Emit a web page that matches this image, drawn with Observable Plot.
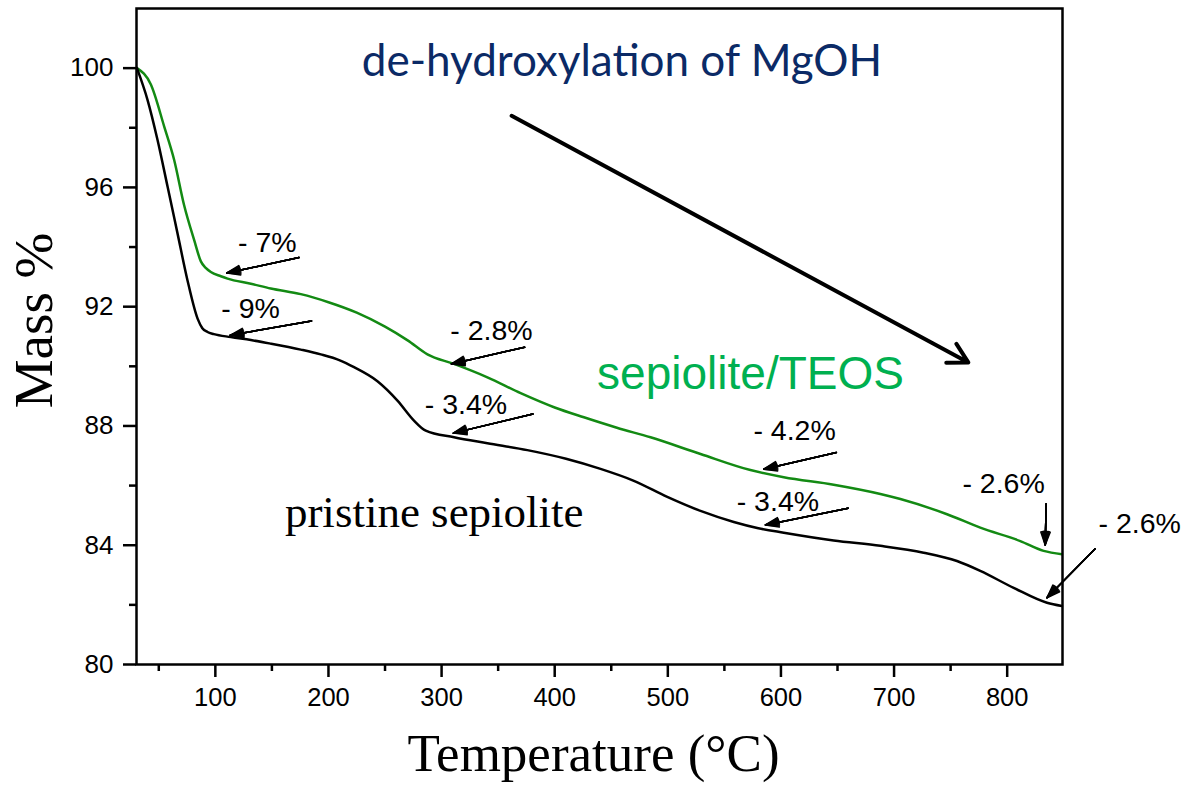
<!DOCTYPE html>
<html><head><meta charset="utf-8">
<script src="https://cdn.jsdelivr.net/npm/d3@7"></script>
<script src="https://cdn.jsdelivr.net/npm/@observablehq/plot@0.6"></script>
<style>body{margin:0;background:#fff;}</style>
</head><body><div id="chart"></div>
<script>
// pristine sepiolite (black)
const tempBlack = [30.7,40.1,48.9,57.8,66.6,75.4,84.3,88.5,93.1,98.7,113.7,131.4,149,175.5,193.2,210,222.6,243.3,261,275.6,286,311,340.5,375.8,410,440.5,470,499.5,528.9,558.3,580,602.5,646.6,687.9,726.1,755.6,776.2,805.7,835.2,848.4];
const massBlack = [100.0,98.93,97.59,96.02,94.45,92.88,91.60,91.28,91.15,91.08,90.98,90.88,90.76,90.56,90.40,90.20,89.97,89.50,88.85,88.18,87.84,87.62,87.42,87.19,86.90,86.56,86.16,85.62,85.15,84.78,84.57,84.42,84.16,83.98,83.75,83.47,83.14,82.57,82.07,81.96];
// sepiolite/TEOS (green)
const tempGreen = [30.7,43,54.8,63.6,72.4,81.3,87.2,91.5,96,104.9,110.8,131.4,149,175.5,200,225,250,270,287.5,311,340.5,369.9,400,425.8,455,484.7,528.9,573,602.5,646.6,687.9,705.6,746.8,776.2,811.6,832.2,848.4];
const massGreen = [100.0,99.45,98.04,96.92,95.40,94.23,93.52,93.30,93.16,93.02,92.94,92.77,92.61,92.42,92.15,91.80,91.33,90.87,90.40,90.08,89.63,89.10,88.62,88.29,87.94,87.62,87.06,86.52,86.28,86.03,85.72,85.55,85.04,84.59,84.14,83.81,83.70];

const xTicks = [100,200,300,400,500,600,700,800];
const xMinor = [50,150,250,350,450,550,650,750];
const yTicks = [80,84,88,92,96,100];
const yMinor = [82,86,90,94,98];

// mass-loss annotations
const annLabels = ["- 7%","- 9%","- 2.8%","- 3.4%","- 4.2%","- 3.4%","- 2.6%"];
const annX = [145.9,131.1,344.1,321.6,612.1,597.3,796.8];
const annY = [94.15,91.91,91.20,88.72,87.83,85.46,86.06];
const edgeLabel = ["- 2.6%"];
const edgeX = [880.7];
const edgeY = [84.71];
const arrX1 = [174.0,185.0,373.4,380.7,649.0,659.4,834.5,877.8];
const arrY1 = [93.65,91.52,90.64,88.40,87.11,85.24,85.39,83.88];
const arrX2 = [110.2,113.1,308.7,310.4,584.8,586.3,833.6,835.2];
const arrY2 = [93.13,91.04,90.08,87.76,86.55,84.68,84.01,82.24];

// de-hydroxylation trend arrow
const trendX1 = [361.9], trendY1 = [98.40], trendX2 = [765.6], trendY2 = [90.13];

const titleText = ["de-hydroxylation of MgOH"];
const titleX = [459.5], titleY = [100.21];
const teosText = ["sepiolite/TEOS"];
const teosX = [573.1], teosY = [89.72];
const pristineText = ["pristine sepiolite"];
const pristineX = [293.5], pristineY = [85.09];

const blackRows = tempBlack.map((t, i) => ({t, m: massBlack[i]}));
const greenRows = tempGreen.map((t, i) => ({t, m: massGreen[i]}));
const arrows = arrX1.map((x1, i) => ({x1, y1: arrY1[i], x2: arrX2[i], y2: arrY2[i]}));

const sans = "'Liberation Sans', Arial, sans-serif";
const serif = "'Liberation Serif', 'Times New Roman', serif";

const headMarks = [0, 8, 16, 24, 32, 40].map(a =>
  Plot.arrow(arrows, {x1: "x1", y1: "y1", x2: "x2", y2: "y2", stroke: "#000", strokeWidth: 1.5, headLength: 14, headAngle: a})
);

const chart = Plot.plot({
  width: 1182,
  height: 787,
  marginLeft: 136,
  marginRight: 120,
  marginTop: 8,
  marginBottom: 123,
  style: {background: "#fff", color: "#000", fontFamily: sans, fontSize: "25px"},
  x: {domain: [30.3, 848.9]},
  y: {domain: [80, 102]},
  marks: [
    Plot.line(greenRows, {x: "t", y: "m", stroke: "#138a13", strokeWidth: 2.5, curve: "monotone-x"}),
    Plot.line(blackRows, {x: "t", y: "m", stroke: "#000", strokeWidth: 2.5, curve: "monotone-x"}),
    Plot.frame({stroke: "#000", strokeWidth: 2.5}),
    Plot.axisX({ticks: xTicks, tickSize: 13, tickPadding: 10, strokeWidth: 2.5, fontSize: 25.5, fontFamily: sans, label: null}),
    Plot.axisX({ticks: xMinor, tickSize: 7, strokeWidth: 2.5, tickFormat: () => "", label: null}),
    Plot.axisY({ticks: yTicks, tickSize: 13, tickPadding: 10, strokeWidth: 2.5, fontSize: 26, fontFamily: sans, label: null}),
    Plot.axisY({ticks: yMinor, tickSize: 7, strokeWidth: 2.5, tickFormat: () => "", label: null}),
    Plot.text(["Temperature (°C)"], {frameAnchor: "bottom", dy: 90, dx: -6, fontSize: 53, fontFamily: serif, textAnchor: "middle", lineAnchor: "middle", fill: "#000"}),
    Plot.text(["Mass %"], {frameAnchor: "left", dx: -102, dy: -16, rotate: -90, fontSize: 55, fontFamily: serif, textAnchor: "middle", lineAnchor: "middle", fill: "#000"}),
    Plot.arrow([0], {x1: () => trendX1[0], y1: () => trendY1[0], x2: () => trendX2[0], y2: () => trendY2[0], stroke: "#000", strokeWidth: 4, headLength: 8.25, headAngle: 58}),
    ...headMarks,
    Plot.text(annLabels, {x: (d, i) => annX[i], y: (d, i) => annY[i], text: d => d, fontSize: 28.5, fontFamily: sans, fill: "#000", textAnchor: "middle", lineAnchor: "middle"}),
    Plot.text(edgeLabel, {x: (d, i) => edgeX[i], y: (d, i) => edgeY[i], text: d => d, fontSize: 28.5, fontFamily: sans, fill: "#000", textAnchor: "start", lineAnchor: "middle"}),
    Plot.text(titleText, {x: (d, i) => titleX[i], y: (d, i) => titleY[i], text: d => d, fontSize: 44, fontFamily: "Lato, 'Open Sans', sans-serif", fill: "#0b2a66", lineAnchor: "middle"}),
    Plot.text(teosText, {x: (d, i) => teosX[i], y: (d, i) => teosY[i], text: d => d, fontSize: 46, fontFamily: sans, fill: "#00b050", lineAnchor: "middle"}),
    Plot.text(pristineText, {x: (d, i) => pristineX[i], y: (d, i) => pristineY[i], text: d => d, fontSize: 45, fontFamily: serif, fill: "#000", lineAnchor: "middle"})
  ]
});
document.getElementById("chart").appendChild(chart);
</script></body></html>
